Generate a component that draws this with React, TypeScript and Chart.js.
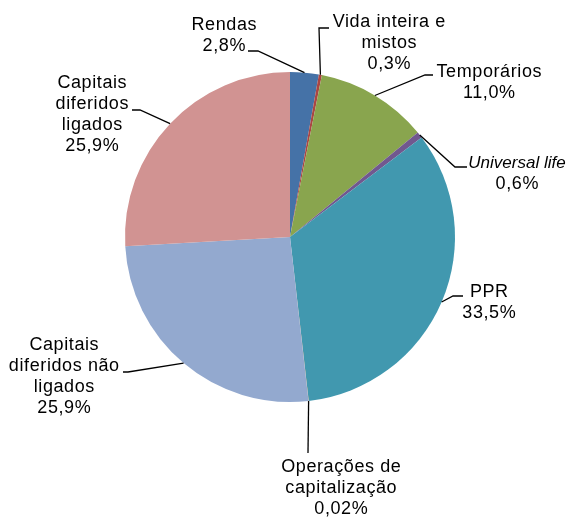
import { useEffect, useRef } from "react";
import { Chart, registerables } from "chart.js";

Chart.register(...registerables);

// ---- data ----
const categories: string[][] = [
  ["Rendas"],
  ["Vida inteira e", "mistos"],
  ["Temporários"],
  ["Universal life"],
  ["PPR"],
  ["Operações de", "capitalização"],
  ["Capitais", "diferidos não", "ligados"],
  ["Capitais", "diferidos", "ligados"],
];
const shares = [2.8, 0.3, 11.0, 0.6, 33.5, 0.02, 25.9, 25.9];
const shareDecimals = [1, 1, 1, 1, 1, 2, 1, 1];
const italicName = [false, false, false, true, false, false, false, false];
const sliceColors = [
  "#4572A7",
  "#AA4643",
  "#89A54E",
  "#71588F",
  "#4198AF",
  "#DB843D",
  "#93A9CF",
  "#D19392",
];

// ---- label layout (offsets from pie centre, px) ----
type Layout = { path: [number, number][]; tx: number; ty: number };
const labelLayout: Layout[] = [
  { path: [[-32, -186], [-42, -186]], tx: -66, ty: -212 },
  { path: [[29, -209], [39, -209]], tx: 99, ty: -215 },
  { path: [[135, -162], [143, -162]], tx: 199, ty: -165 },
  { path: [[165, -70], [177, -70]], tx: 227, ty: -74 },
  { path: [[163, 59], [173, 59]], tx: 199, ty: 55 },
  { path: [[18, 216]], tx: 51, ty: 230 },
  { path: [[-162, 135], [-167, 135]], tx: -226, ty: 108 },
  { path: [[-150, -127], [-158, -127]], tx: -198, ty: -154 },
];
const LINE_H = 21;
const FAMILY = '"Liberation Sans", Arial, sans-serif';
const LETTER_SPACING = 0.6;

const fmtShare = (v: number, d: number) => v.toFixed(d).replace(".", ",") + "%";

const leaderLabels = {
  id: "leaderLabels",
  afterDatasetsDraw(chart: any) {
    const ctx = chart.ctx as CanvasRenderingContext2D;
    const meta = chart.getDatasetMeta(0);
    meta.data.forEach((arc: any, i: number) => {
      const p = arc.getProps(["x", "y", "startAngle", "endAngle", "outerRadius"], true);
      const mid = (p.startAngle + p.endAngle) / 2;
      const sx = p.x + Math.cos(mid) * p.outerRadius;
      const sy = p.y + Math.sin(mid) * p.outerRadius;
      const lay = labelLayout[i];
      ctx.save();
      ctx.strokeStyle = "#000";
      ctx.lineWidth = 1.3;
      ctx.beginPath();
      ctx.moveTo(sx, sy);
      lay.path.forEach(([px, py]) => ctx.lineTo(p.x + px, p.y + py));
      ctx.stroke();
      ctx.fillStyle = "#000";
      ctx.textAlign = "center";
      ctx.textBaseline = "middle";
      const lines = [...categories[i], fmtShare(shares[i], shareDecimals[i])];
      lines.forEach((t, k) => {
        const isItalic = k < lines.length - 1 && italicName[i];
        const ls = isItalic ? 0 : LETTER_SPACING;
        (ctx as any).letterSpacing = ls + "px";
        ctx.font = isItalic ? "italic 17px " + FAMILY : "18px " + FAMILY;
        ctx.fillText(t, p.x + lay.tx + ls / 2, p.y + lay.ty + k * LINE_H);
      });
      ctx.restore();
    });
  },
};

export default function App() {
  const ref = useRef<HTMLCanvasElement | null>(null);
  useEffect(() => {
    if (!ref.current) return;
    const chart = new Chart(ref.current, {
      type: "pie",
      data: {
        labels: categories.map((c) => c.join(" ")),
        datasets: [
          {
            data: shares,
            backgroundColor: sliceColors,
            borderWidth: 0,
          },
        ],
      },
      options: {
        animation: false,
        responsive: true,
        maintainAspectRatio: false,
        layout: { padding: { left: 125, right: 123, top: 72, bottom: 116 } },
        plugins: {
          legend: { display: false },
          tooltip: { enabled: false },
        },
      },
      plugins: [leaderLabels],
    });
    return () => chart.destroy();
  }, []);
  return (
    <div style={{ position: "fixed", left: 0, top: 0, width: 578, height: 518, background: "#fff" }}>
      <canvas ref={ref} />
    </div>
  );
}
